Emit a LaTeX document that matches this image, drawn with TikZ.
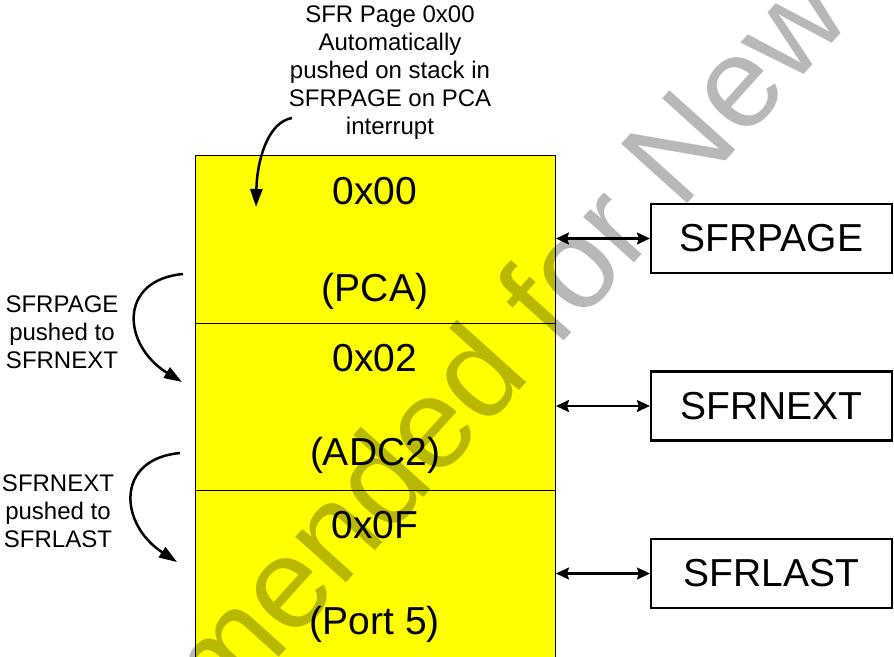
\documentclass[tikz,border=0pt]{standalone}
\usepackage{fontspec}
\setmainfont{Liberation Sans}
\usetikzlibrary{arrows.meta}
\definecolor{stackyellow}{RGB}{255,255,0}
\begin{document}
\begin{tikzpicture}[x=1pt,y=-1pt,
  row/.style={draw, line width=1pt, fill=stackyellow, minimum width=360pt, inner sep=0pt, anchor=north west},
  bigt/.style={font=\fontsize{39}{47}\selectfont, anchor=base, inner sep=0pt},
  regbox/.style={draw, line width=2.2pt, minimum width=241pt, minimum height=69pt, inner sep=0pt, font=\fontsize{39}{47}\selectfont},
  lbl/.style={font=\fontsize{24}{28}\selectfont, align=center, inner sep=0pt, anchor=north},
  dbl/.style={{Stealth[length=13pt,width=12pt,inset=2pt]}-{Stealth[length=13pt,width=12pt,inset=2pt]}, line width=2.2pt},
  curv/.style={line width=2.5pt, -{Triangle[length=18pt,width=12pt]}},
  wm/.style={font=\fontsize{129}{150}\selectfont, rotate=48, anchor=base, text opacity=0.28, inner sep=0pt}
]
\useasboundingbox (0,0) rectangle (894,656);
\fill[white] (0,0) rectangle (894,656);

% stack rows
\node[row, minimum height=168pt] (r0) at (195,155) {};
\node[row, minimum height=167pt] (r1) at (195,323) {};
\node[row, minimum height=172pt] (r2) at (195,490) {};

% watermark
\node[wm] (wm) at (489,424) {Not Recommended for New Designs};

% row texts
\node[bigt] (t00) at (375,204) {0x00};
\node[bigt] (tpca) at (375,301) {(PCA)};
\node[bigt] (t02) at (375,371) {0x02};
\node[bigt] (tadc) at (375,465) {(ADC2)};
\node[bigt] (t0f) at (375,538) {0x0F};
\node[bigt] (tport) at (375,634) {(Port 5)};

% registers
\node[regbox] (sp) at (771.5,238.5) {SFRPAGE};
\node[regbox] (sn) at (771.5,406) {SFRNEXT};
\node[regbox] (sl) at (771.5,573.5) {SFRLAST};

\draw[dbl] (sp.west -| r0.east) -- (sp.west);
\draw[dbl] (sn.west -| r1.east) -- (sn.west);
\draw[dbl] (sl.west -| r2.east) -- (sl.west);

% labels
\node[lbl] (ltop) at (390,5.5) {SFR Page 0x00\\Automatically\\pushed on stack in\\SFRPAGE on PCA\\interrupt};
\node[lbl] (l1) at (62,295.5) {SFRPAGE\\pushed to\\SFRNEXT};
\node[lbl] (l2) at (58,474.5) {SFRNEXT\\pushed to\\SFRLAST};

% curved arrows
\coordinate (c0s) at (292,118);
\coordinate (c0e) at (256,207);
\coordinate (c1s) at (183,274);
\coordinate (c1e) at (182,382);
\coordinate (c2s) at (180,453);
\coordinate (c2e) at (177,562);
\draw[curv] (c0s) .. controls (268,122) and (257,160) .. (c0e);
\draw[curv] (c1s) .. controls (118,280) and (122,345) .. (c1e);
\draw[curv] (c2s) .. controls (115,459) and (119,524) .. (c2e);
\end{tikzpicture}
\end{document}
